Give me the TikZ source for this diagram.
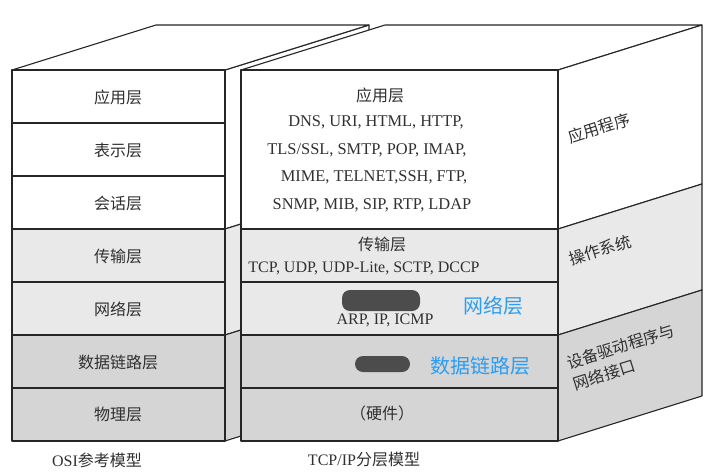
\documentclass[tikz,border=0pt]{standalone}
\usepackage{fontspec}
\setmainfont{Liberation Serif}
\newfontfamily\cjk{Noto Sans CJK SC}
\definecolor{lightlayer}{HTML}{E9E9E9}
\definecolor{darklayer}{HTML}{D5D5D5}
\definecolor{inktext}{HTML}{303030}
\definecolor{netblue}{HTML}{2A9DF4}
\definecolor{smudge}{HTML}{4C4C4C}
\begin{document}
\begin{tikzpicture}[x=1pt,y=-1pt,
  face/.style={draw=black!85, line width=1.1pt, line join=round},
  lbl/.style={text=inktext, font=\fontsize{16}{18}\selectfont, inner sep=0pt},
  applbl/.style={lbl, font=\fontsize{16.4}{18}\selectfont},
  bluelbl/.style={text=netblue, font=\fontsize{20}{22}\selectfont\cjk, inner sep=0pt},
  sidelbl/.style={lbl, rotate=17.35, align=left},
  blob/.style={fill=smudge, rounded corners=8pt}]
\useasboundingbox (0,0) rectangle (720,472);

% --- OSI block: side face (mostly hidden behind the TCP/IP block)
\filldraw[face, fill=white]      (225,70)  -- (369,25)  -- (369,184) -- (225,229) -- cycle;
\filldraw[face, fill=lightlayer] (225,229) -- (369,184) -- (369,290) -- (225,335) -- cycle;
\filldraw[face, fill=darklayer]  (225,335) -- (369,290) -- (369,396) -- (225,441) -- cycle;
% top face
\filldraw[face, fill=white] (12,70) -- (156,25) -- (369,25) -- (225,70) -- cycle;
% front face, seven layers
\filldraw[face, fill=white]      (12,70)  rectangle (225,123);
\filldraw[face, fill=white]      (12,123) rectangle (225,176);
\filldraw[face, fill=white]      (12,176) rectangle (225,229);
\filldraw[face, fill=lightlayer] (12,229) rectangle (225,282);
\filldraw[face, fill=lightlayer] (12,282) rectangle (225,335);
\filldraw[face, fill=darklayer]  (12,335) rectangle (225,388);
\filldraw[face, fill=darklayer]  (12,388) rectangle (225,441);

% --- TCP/IP block: top face
\filldraw[face, fill=white] (241,70) -- (385,25) -- (702,25) -- (558,70) -- cycle;
% side face
\filldraw[face, fill=white]      (558,70)  -- (702,25)  -- (702,184) -- (558,229) -- cycle;
\filldraw[face, fill=lightlayer] (558,229) -- (702,184) -- (702,290) -- (558,335) -- cycle;
\filldraw[face, fill=darklayer]  (558,335) -- (702,290) -- (702,396) -- (558,441) -- cycle;
% front face
\filldraw[face, fill=white]      (241,70)  rectangle (558,229);
\filldraw[face, fill=lightlayer] (241,229) rectangle (558,282);
\filldraw[face, fill=lightlayer] (241,282) rectangle (558,335);
\filldraw[face, fill=darklayer]  (241,335) rectangle (558,388);
\filldraw[face, fill=darklayer]  (241,388) rectangle (558,441);

% --- OSI layer names
\node[lbl] (osi7) at (118,97)  {\cjk 应用层};
\node[lbl] (osi6) at (118,150) {\cjk 表示层};
\node[lbl] (osi5) at (118,203) {\cjk 会话层};
\node[lbl] (osi4) at (118,256) {\cjk 传输层};
\node[lbl] (osi3) at (118,309) {\cjk 网络层};
\node[lbl] (osi2) at (118,362) {\cjk 数据链路层};
\node[lbl] (osi1) at (118,414) {\cjk 物理层};

% --- TCP/IP layer contents
\node[lbl] (appname) at (380,95)  {\cjk 应用层};
\node[applbl] (appp1) at (376,122) {DNS, URI, HTML, HTTP,};
\node[applbl] (appp2) at (367,150) {TLS/SSL, SMTP, POP, IMAP,};
\node[applbl] (appp3) at (374,177) {MIME, TELNET,SSH, FTP,};
\node[applbl] (appp4) at (372,205) {SNMP, MIB, SIP, RTP, LDAP};

\node[lbl] (trname) at (382,244) {\cjk 传输层};
\node[lbl] (trprot) at (364,268) {TCP, UDP, UDP-Lite, SCTP, DCCP};

\fill[blob] (342,290) rectangle (420,311);
\node[lbl] (netprot) at (385,320) {ARP, IP, ICMP};
\node[bluelbl] (netname) at (493,306) {网络层};

\fill[blob] (355,356) rectangle (410,372);
\node[bluelbl] (dlname) at (480,366) {数据链路层};

\node[lbl] (hw) at (382,413) {\cjk （硬件）};

% --- labels on the side face
\node[sidelbl] (sideapp) at (599,128) {\cjk 应用程序};
\node[sidelbl] (sideos)  at (600,250) {\cjk 操作系统};
\node[sidelbl] (sidedrv) at (624,357) {\cjk 设备驱动程序与\\[4pt]\cjk 网络接口};

% --- captions
\node[lbl] (osicap) at (97,460)  {OSI{\cjk 参考模型}};
\node[lbl] (tcpcap) at (364,459) {TCP/IP{\cjk 分层模型}};
\end{tikzpicture}
\end{document}
